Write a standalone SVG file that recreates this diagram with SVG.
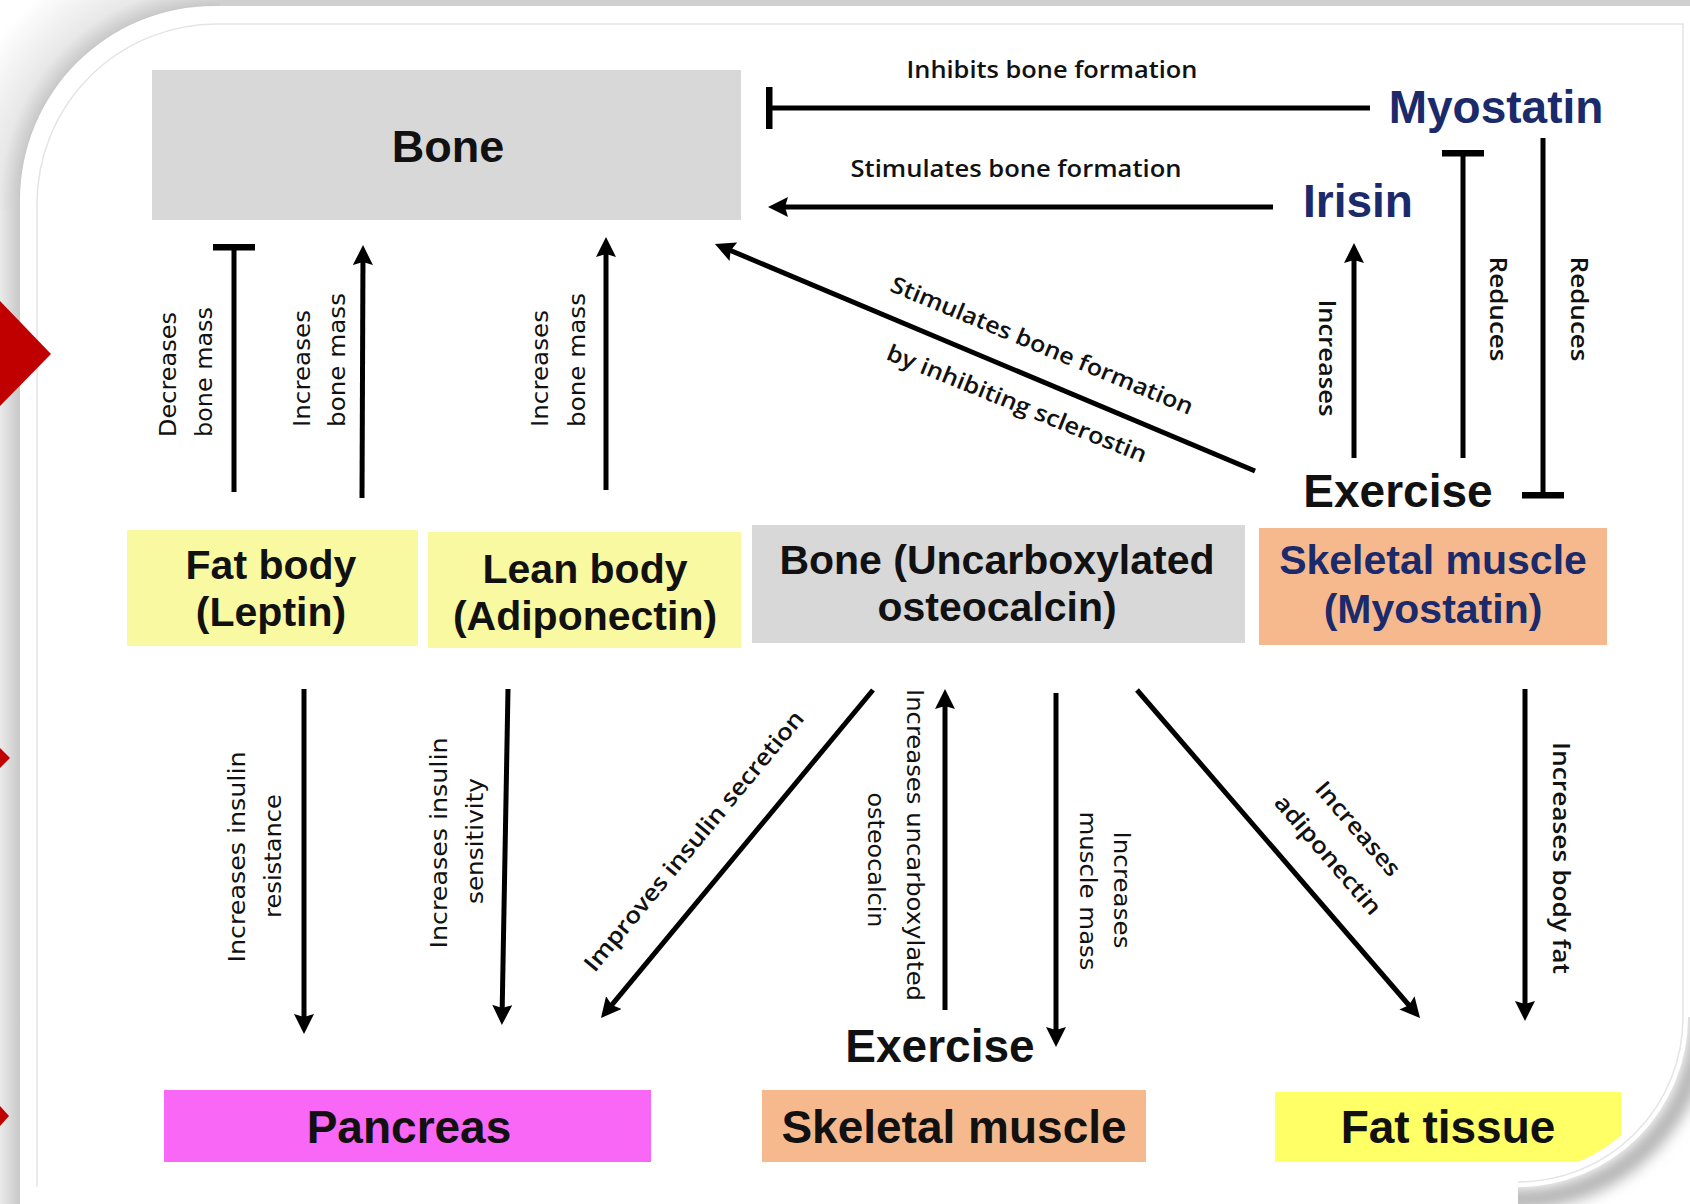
<svg xmlns="http://www.w3.org/2000/svg" width="1690" height="1204" viewBox="0 0 1690 1204">
<defs>
<style>
.nt{font-family:"Liberation Sans",Arial,sans-serif;font-weight:bold;fill:#111;text-anchor:middle}
.nv{fill:#1b2a6b}
.lb{font-family:"Open Sans","DejaVu Sans",sans-serif;font-weight:600;font-size:23px;fill:#111}
.lv{font-family:"DejaVu Sans","Open Sans",sans-serif;font-size:23px;fill:#111}
.m{text-anchor:middle}
.ln{stroke:#000;stroke-width:5;fill:none}
.ar{marker-end:url(#arr)}
.te{marker-end:url(#tee)}
</style>
<linearGradient id="gLeft" x1="0" y1="0" x2="20" y2="0" gradientUnits="userSpaceOnUse">
<stop offset="0" stop-color="#eaeaea"/><stop offset="1" stop-color="#c8c8c8"/>
</linearGradient>
<radialGradient id="gCorner" cx="214" cy="200" r="270" gradientUnits="userSpaceOnUse">
<stop offset="0" stop-color="#c8c8c8"/><stop offset="0.7185" stop-color="#c8c8c8"/><stop offset="0.7926" stop-color="#e8e8e8"/><stop offset="1" stop-color="#ffffff"/>
</radialGradient>
<filter id="blur" x="-20%" y="-20%" width="140%" height="140%"><feGaussianBlur stdDeviation="7"/></filter>
<clipPath id="panelClip"><path d="M0,0 H1690 V1017 H1675 A157,157 0 0 1 1518,1174 V1204 H0 Z"/></clipPath>
<marker id="arr" markerUnits="userSpaceOnUse" viewBox="0 0 20 20" markerWidth="20" markerHeight="20" refX="14" refY="10" orient="auto"><path d="M0,0 L20,10 L0,20 L3,10 Z" fill="#000"/></marker>
<marker id="tee" markerUnits="userSpaceOnUse" viewBox="0 0 7 42" markerWidth="7" markerHeight="42" refX="3.5" refY="21" orient="auto"><rect width="7" height="42" fill="#000"/></marker>
</defs>

<g id="background">
<rect width="1690" height="1204" fill="#fff"/>
<rect x="0" y="0" width="20" height="1204" fill="url(#gLeft)"/>
<rect x="0" y="0" width="1690" height="6" fill="#d0d0d0"/>
<rect x="0" y="0" width="220" height="210" fill="url(#gCorner)"/>
<path d="M1694,970 A182,182 0 0 1 1471,1193" stroke="#b4b4b4" stroke-width="20" fill="none" filter="url(#blur)"/>
<path d="M20,1204 V200 A194,194 0 0 1 214,6 H1690 V1017 H1688 A170,170 0 0 1 1518,1187 V1204 Z" fill="#fff"/>
<path d="M37,1187 V204 A180,180 0 0 1 217,24 H1683 V1017 A165,165 0 0 1 1518,1182" stroke="#e4e4e4" stroke-width="1.5" fill="none"/>
<polygon points="0,301 51,354 0,406" fill="#c00000"/>
<polygon points="0,748 10,758 0,768" fill="#c00000"/>
<polygon points="0,1106 9,1116 0,1126" fill="#c00000"/>
</g>

<g clip-path="url(#panelClip)">
<g id="connectors">
<path class="ln te" d="M1370,108 L769,108"/>
<path class="ln ar" d="M1273,207 L774,207"/>
<path class="ln ar" d="M1255,471 L720.5,246.3"/>
<path class="ln ar" d="M1354,458 L1354,249"/>
<path class="ln te" d="M1463,458 L1463,153"/>
<path class="ln te" d="M1543,138 L1543,495"/>
<path class="ln te" d="M234,492 L234,247"/>
<path class="ln ar" d="M362,498 L363,251"/>
<path class="ln ar" d="M606,490 L606,243"/>
<path class="ln ar" d="M304,689 L304,1028"/>
<path class="ln ar" d="M508,689 L502,1019"/>
<path class="ln ar" d="M873,690 L604.8,1013.4"/>
<path class="ln ar" d="M945,1010 L945,695"/>
<path class="ln ar" d="M1056,693 L1056,1041"/>
<path class="ln ar" d="M1137,690 L1416.1,1013.5"/>
<path class="ln ar" d="M1525,689 L1525,1015"/>

<text class="lb m" x="1052" y="78" font-size="22" textLength="291" lengthAdjust="spacingAndGlyphs">Inhibits bone formation</text>
<text class="lb m" x="1016" y="177" textLength="331" lengthAdjust="spacingAndGlyphs">Stimulates bone formation</text>
<text class="lb m" transform="translate(1498,309) rotate(90)" x="0" y="8" textLength="105" lengthAdjust="spacingAndGlyphs">Reduces</text>
<text class="lb m" transform="translate(1579,309) rotate(90)" x="0" y="8" textLength="105" lengthAdjust="spacingAndGlyphs">Reduces</text>
<text class="lb m" transform="translate(1327,358) rotate(90)" x="0" y="8" textLength="117" lengthAdjust="spacingAndGlyphs">Increases</text>
<text class="lb m" transform="translate(1039,353) rotate(22.5)" font-size="24" textLength="325" lengthAdjust="spacingAndGlyphs">Stimulates bone formation</text>
<text class="lb m" transform="translate(1014,411) rotate(22)" font-size="24" textLength="278" lengthAdjust="spacingAndGlyphs">by inhibiting sclerostin</text>

<text class="lv" transform="translate(176,437) rotate(-90)" textLength="125" lengthAdjust="spacingAndGlyphs">Decreases</text>
<text class="lv" transform="translate(212,437) rotate(-90)" textLength="130" lengthAdjust="spacingAndGlyphs">bone mass</text>
<text class="lv" transform="translate(310,427) rotate(-90)" textLength="117" lengthAdjust="spacingAndGlyphs">Increases</text>
<text class="lv" transform="translate(345,427) rotate(-90)" textLength="134" lengthAdjust="spacingAndGlyphs">bone mass</text>
<text class="lv" transform="translate(548,427) rotate(-90)" textLength="117" lengthAdjust="spacingAndGlyphs">Increases</text>
<text class="lv" transform="translate(585,427) rotate(-90)" textLength="134" lengthAdjust="spacingAndGlyphs">bone mass</text>

<text class="lv m" transform="translate(245,857) rotate(-90)" textLength="211" lengthAdjust="spacingAndGlyphs">Increases insulin</text>
<text class="lv m" transform="translate(281,856) rotate(-90)" textLength="124" lengthAdjust="spacingAndGlyphs">resistance</text>
<text class="lv m" transform="translate(447,843) rotate(-90)" textLength="211" lengthAdjust="spacingAndGlyphs">Increases insulin</text>
<text class="lv m" transform="translate(483,841) rotate(-90)" textLength="126" lengthAdjust="spacingAndGlyphs">sensitivity</text>
<text class="lb m" transform="translate(700,846) rotate(-50.4)" textLength="330" lengthAdjust="spacingAndGlyphs">Improves insulin secretion</text>
<text class="lv m" transform="translate(907,845) rotate(90)" textLength="312" lengthAdjust="spacingAndGlyphs">Increases uncarboxylated</text>
<text class="lv m" transform="translate(868,860) rotate(90)" textLength="135" lengthAdjust="spacingAndGlyphs">osteocalcin</text>
<text class="lv m" transform="translate(1114,890) rotate(90)" textLength="117" lengthAdjust="spacingAndGlyphs">Increases</text>
<text class="lv m" transform="translate(1080,891) rotate(90)" textLength="159" lengthAdjust="spacingAndGlyphs">muscle mass</text>
<text class="lb m" transform="translate(1352,834) rotate(49.2)" textLength="117" lengthAdjust="spacingAndGlyphs">Increases</text>
<text class="lb m" transform="translate(1322,860) rotate(49.2)" textLength="150" lengthAdjust="spacingAndGlyphs">adiponectin</text>
<text class="lb m" transform="translate(1553,858) rotate(90)" textLength="232" lengthAdjust="spacingAndGlyphs">Increases body fat</text>
</g>

<g id="node-bone">
<rect x="152" y="70" width="589" height="150" fill="#d8d8d9"/>
<text class="nt" x="448" y="162" font-size="45">Bone</text>
</g>
<g id="node-myostatin">
<text class="nt nv" x="1496" y="123" font-size="46">Myostatin</text>
</g>
<g id="node-irisin">
<text class="nt nv" x="1358" y="217" font-size="46">Irisin</text>
</g>
<g id="node-exercise-top">
<text class="nt" x="1398" y="507" font-size="46">Exercise</text>
</g>
<g id="node-fat-body">
<rect x="127" y="530" width="291" height="116" fill="#f9f9a1"/>
<text class="nt" x="271" y="579" font-size="41">Fat body</text>
<text class="nt" x="271" y="626" font-size="41">(Leptin)</text>
</g>
<g id="node-lean-body">
<rect x="428" y="532" width="313" height="116" fill="#f9f9a1"/>
<text class="nt" x="585" y="583" font-size="41">Lean body</text>
<text class="nt" x="585" y="630" font-size="41">(Adiponectin)</text>
</g>
<g id="node-bone-osteocalcin">
<rect x="752" y="525" width="493" height="118" fill="#d8d8d9"/>
<text class="nt" x="997" y="574" font-size="41">Bone (Uncarboxylated</text>
<text class="nt" x="997" y="621" font-size="41">osteocalcin)</text>
</g>
<g id="node-skeletal-myostatin">
<rect x="1259" y="528" width="348" height="117" fill="#f6b98e"/>
<text class="nt nv" x="1433" y="574" font-size="41">Skeletal muscle</text>
<text class="nt nv" x="1433" y="623" font-size="41">(Myostatin)</text>
</g>
<g id="node-exercise-bottom">
<text class="nt" x="940" y="1062" font-size="46">Exercise</text>
</g>
<g id="node-pancreas">
<rect x="164" y="1090" width="487" height="72" fill="#f967f7"/>
<text class="nt" x="409" y="1143" font-size="46">Pancreas</text>
</g>
<g id="node-skeletal-muscle">
<rect x="762" y="1090" width="384" height="72" fill="#f6b98e"/>
<text class="nt" x="954" y="1143" font-size="46">Skeletal muscle</text>
</g>
<g id="node-fat-tissue">
<rect x="1275" y="1092" width="346" height="70" fill="#ffff66"/>
<text class="nt" x="1448" y="1143" font-size="46">Fat tissue</text>
</g>
</g>
</svg>
